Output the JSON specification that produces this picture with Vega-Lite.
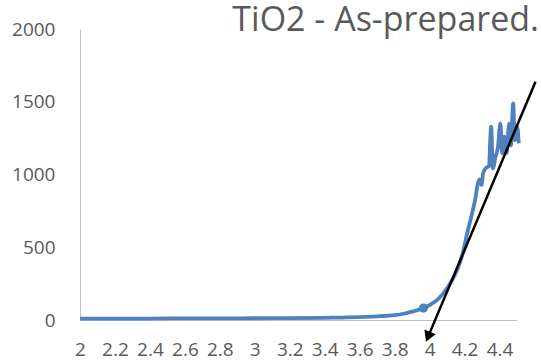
{
  "$schema": "https://vega.github.io/schema/vega-lite/v6.json",
  "width": 437,
  "height": 291,
  "autosize": {"type": "none"},
  "padding": {"left": 80, "top": 29, "right": 24, "bottom": 40},
  "background": "white",
  "config": {
    "view": {"stroke": null},
    "font": "Open Sans",
    "axis": {
      "grid": false,
      "ticks": false,
      "tickSize": 0,
      "domainColor": "#bfbfbf",
      "domainWidth": 1,
      "labelColor": "#595959",
      "labelFont": "Open Sans",
      "labelFontSize": 19,
      "labelOverlap": false,
      "labelFlush": false,
      "labelBound": false,
      "labelSeparation": 0,
      "title": null
    }
  },
  "title": {
    "text": "TiO2 - As-prepared.",
    "anchor": "end",
    "frame": "group",
    "orient": "top",
    "baseline": "alphabetic",
    "offset": 0,
    "dy": 45,
    "dx": 22,
    "font": "Open Sans",
    "fontSize": 34,
    "fontWeight": "normal",
    "color": "#595959"
  },
  "datasets": {
    "curve": [
      {"x": 2.0, "y": 10}, {"x": 2.2, "y": 10}, {"x": 2.4, "y": 10}, {"x": 2.6, "y": 11},
      {"x": 2.8, "y": 11}, {"x": 3.0, "y": 12}, {"x": 3.2, "y": 13}, {"x": 3.4, "y": 15},
      {"x": 3.5, "y": 17}, {"x": 3.6, "y": 20}, {"x": 3.7, "y": 25}, {"x": 3.8, "y": 34},
      {"x": 3.85, "y": 43}, {"x": 3.9, "y": 57}, {"x": 3.95, "y": 75}, {"x": 4.0, "y": 102},
      {"x": 4.05, "y": 145}, {"x": 4.1, "y": 218}, {"x": 4.15, "y": 325}, {"x": 4.19, "y": 460},
      {"x": 4.215, "y": 596}, {"x": 4.243, "y": 733}, {"x": 4.262, "y": 836}, {"x": 4.276, "y": 939},
      {"x": 4.287, "y": 967}, {"x": 4.297, "y": 928}, {"x": 4.306, "y": 1008}, {"x": 4.32, "y": 1042},
      {"x": 4.339, "y": 1058}, {"x": 4.352, "y": 1329}, {"x": 4.362, "y": 1042}, {"x": 4.377, "y": 1123},
      {"x": 4.39, "y": 1180}, {"x": 4.405, "y": 1352}, {"x": 4.415, "y": 1145}, {"x": 4.428, "y": 1260},
      {"x": 4.44, "y": 1145}, {"x": 4.455, "y": 1350}, {"x": 4.465, "y": 1200}, {"x": 4.478, "y": 1489},
      {"x": 4.487, "y": 1237}, {"x": 4.501, "y": 1329}, {"x": 4.51, "y": 1214}
    ],
    "marker": [{"x": 3.965, "y": 82}],
    "tangent": [{"x": 4.606, "y": 1638, "x2": 3.991, "y2": -116}],
    "arrowhead": [{"x": 3.991, "y": -116}]
  },
  "encoding": {
    "x": {"field": "x", "type": "quantitative", "scale": {"domain": [2, 4.5], "nice": false, "zero": false},
      "axis": {"values": [2, 2.2, 2.4, 2.6, 2.8, 3, 3.2, 3.4, 3.6, 3.8, 4, 4.2, 4.4], "format": "~r", "labelPadding": 20, "labelOverlap": false}},
    "y": {"field": "y", "type": "quantitative", "scale": {"domain": [0, 2000], "nice": false},
      "axis": {"values": [0, 500, 1000, 1500, 2000], "format": "d", "labelPadding": 25}}
  },
  "layer": [
    {
      "data": {"name": "curve"},
      "mark": {"type": "line", "color": "#4f81bd", "strokeWidth": 3.8, "interpolate": "monotone"}
    },
    {
      "data": {"name": "marker"},
      "mark": {"type": "point", "filled": true, "color": "#4f81bd", "size": 85, "opacity": 1}
    },
    {
      "data": {"name": "tangent"},
      "mark": {"type": "rule", "color": "black", "strokeWidth": 2.5, "clip": false},
      "encoding": {
        "x2": {"field": "x2"},
        "y2": {"field": "y2"}
      }
    },
    {
      "data": {"name": "arrowhead"},
      "mark": {"type": "point", "shape": "triangle-down", "filled": true, "color": "black", "size": 150, "angle": 22.8, "opacity": 1, "clip": false}
    }
  ]
}
